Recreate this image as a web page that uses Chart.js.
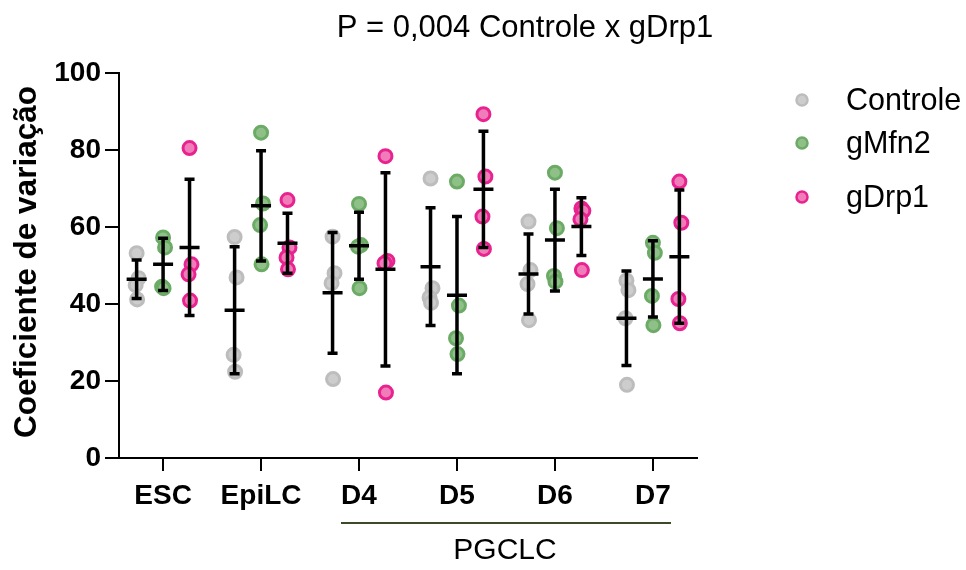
<!DOCTYPE html>
<html lang="pt">
<head>
  <meta charset="UTF-8">
  <title>Coeficiente de variação</title>
  <script src="https://cdn.jsdelivr.net/npm/chart.js@4.4.1/dist/chart.umd.min.js"></script>
  <style>
    html,body{margin:0;padding:0;background:#fff}
    #wrap{width:966px;height:570px;position:relative}
  </style>
</head>
<body>
<div id="wrap"><canvas id="cv" width="966" height="570"></canvas></div>
<script>
/****************  DATA  ****************/
const categories=['ESC','EpiLC','D4','D5','D6','D7'];
const seriesNames=['Controle','gMfn2','gDrp1'];

// individual replicates per group (4 each)
const controle=[[53.2,46.7,44.9,41.2],[57.4,46.9,26.8,22.4],[57.5,48.0,45.4,20.5],[72.6,44.1,41.7,40.3],[61.4,48.8,45.2,35.8],[46.1,43.6,36.3,19.0]];
const gmfn2=[[57.3,54.7,44.5,44.1],[84.5,66.1,60.5,50.3],[66.0,55.3,54.9,44.1],[71.8,39.6,31.1,27.0],[74.1,59.7,47.3,45.8],[55.9,53.3,42.1,34.5]];
const gdrp1=[[80.5,50.3,47.7,40.9],[67.0,54.7,52.1,49.0],[78.4,51.2,50.6,17.0],[89.3,73.1,62.7,54.3],[64.8,64.2,62.0,48.8],[71.8,61.1,41.3,35.0]];

// mean and SD as drawn
const controleMean=[46.4,38.4,42.9,49.7,47.8,36.3];
const controleSD=[5.0,16.5,15.7,15.3,10.4,12.3];
const gmfn2Mean=[50.3,65.5,55.1,42.3,56.6,46.5];
const gmfn2SD=[6.8,14.3,8.7,20.4,13.2,9.9];
const gdrp1Mean=[54.7,55.8,49.0,69.8,60.1,52.3];
const gdrp1SD=[17.7,7.8,25.1,15.1,7.5,17.3];

// small horizontal scatter of replicates (category units)
const jitter=[0,0.02,-0.01,0.005];

const yTicks=[0,20,40,60,80,100];

/****************  STYLE  ****************/
const FONT="'Liberation Sans',Arial,Helvetica,sans-serif";
const offsets=[-0.27,0,0.27];
const fills=['#cdcdcd','#8ec088','#f07cb9'];
const borders=['#bdbdbd','#6cab66','#e8238f'];

const values=[controle,gmfn2,gdrp1];
const means=[controleMean,gmfn2Mean,gdrp1Mean];
const sds=[controleSD,gmfn2SD,gdrp1SD];

const datasets=seriesNames.map((name,s)=>{
  const pts=[];
  values[s].forEach((grp,i)=>grp.forEach((v,k)=>pts.push({x:i+offsets[s]+jitter[k],y:v})));
  return {label:name,data:pts,backgroundColor:fills[s],borderColor:borders[s],
          borderWidth:3,pointRadius:6.5,pointHoverRadius:6.5};
});

/****************  EXTRA DRAWING  ****************/
const extras={
  id:'extras',
  afterDatasetsDraw(chart){
    const {ctx,scales:{x,y}}=chart;
    ctx.save();
    ctx.strokeStyle='#000';ctx.lineWidth=3.5;ctx.lineCap='butt';
    // mean ± SD bars
    means.forEach((m,s)=>m.forEach((mv,i)=>{
      const px=x.getPixelForValue(i+offsets[s]);
      const top=y.getPixelForValue(mv+sds[s][i]);
      const bot=y.getPixelForValue(mv-sds[s][i]);
      const mid=y.getPixelForValue(mv);
      ctx.beginPath();
      ctx.moveTo(px,top);ctx.lineTo(px,bot);
      ctx.moveTo(px-5,top);ctx.lineTo(px+5,top);
      ctx.moveTo(px-5,bot);ctx.lineTo(px+5,bot);
      ctx.moveTo(px-10,mid);ctx.lineTo(px+10,mid);
      ctx.stroke();
    }));
    ctx.restore();
  },
  afterDraw(chart){
    const {ctx,scales:{x,y}}=chart;
    ctx.save();
    ctx.fillStyle='#000';
    // title
    ctx.font='31px '+FONT;ctx.textAlign='center';ctx.textBaseline='middle';
    ctx.fillText('P = 0,004 Controle x gDrp1',525,28);
    // y axis title
    ctx.save();
    ctx.translate(27,262);ctx.rotate(-Math.PI/2);
    ctx.font='bold 31.5px '+FONT;
    ctx.fillText('Coeficiente de variação',0,0);
    ctx.restore();
    // PGCLC bracket
    ctx.strokeStyle='#3d4a2a';ctx.lineWidth=2;
    ctx.beginPath();ctx.moveTo(341,523);ctx.lineTo(671,523);ctx.stroke();
    ctx.font='30px '+FONT;ctx.fillStyle='#000';
    ctx.fillText('PGCLC',505,551);
    // legend
    const ly=[100,143,197];
    seriesNames.forEach((n,s)=>{
      ctx.beginPath();ctx.arc(802,ly[s],5.5,0,Math.PI*2);
      ctx.fillStyle=fills[s];ctx.fill();
      ctx.lineWidth=2.5;ctx.strokeStyle=borders[s];ctx.stroke();
      ctx.fillStyle='#000';ctx.textAlign='left';ctx.font='30.5px '+FONT;
      ctx.fillText(n,846,ly[s]+2);
    });
    ctx.restore();
  }
};

/****************  CHART  ****************/
new Chart(document.getElementById('cv'),{
  type:'scatter',
  data:{datasets},
  plugins:[extras],
  options:{
    responsive:false,animation:false,
    layout:{padding:{top:73,right:269,left:0,bottom:0}},
    plugins:{legend:{display:false},tooltip:{enabled:false},title:{display:false}},
    scales:{
      x:{type:'linear',min:-0.45,max:5.45,
        afterFit:s=>{s.height=112;},
        afterBuildTicks:s=>{s.ticks=categories.map((c,i)=>({value:i}));},
        grid:{drawOnChartArea:false,drawTicks:true,tickLength:13,color:'#000',lineWidth:2},
        border:{display:true,color:'#000',width:2},
        ticks:{callback:v=>categories[v],color:'#000',padding:8,maxRotation:0,
               font:{family:FONT,size:28,weight:'bold'}}},
      y:{min:0,max:100,
        afterFit:s=>{s.width=119;},
        afterBuildTicks:s=>{s.ticks=yTicks.map(v=>({value:v}));},
        grid:{drawOnChartArea:false,drawTicks:true,tickLength:14,color:'#000',lineWidth:2},
        border:{display:true,color:'#000',width:2},
        ticks:{color:'#000',padding:4,font:{family:FONT,size:28,weight:'bold'}}}
    }
  }
});
</script>
</body>
</html>
